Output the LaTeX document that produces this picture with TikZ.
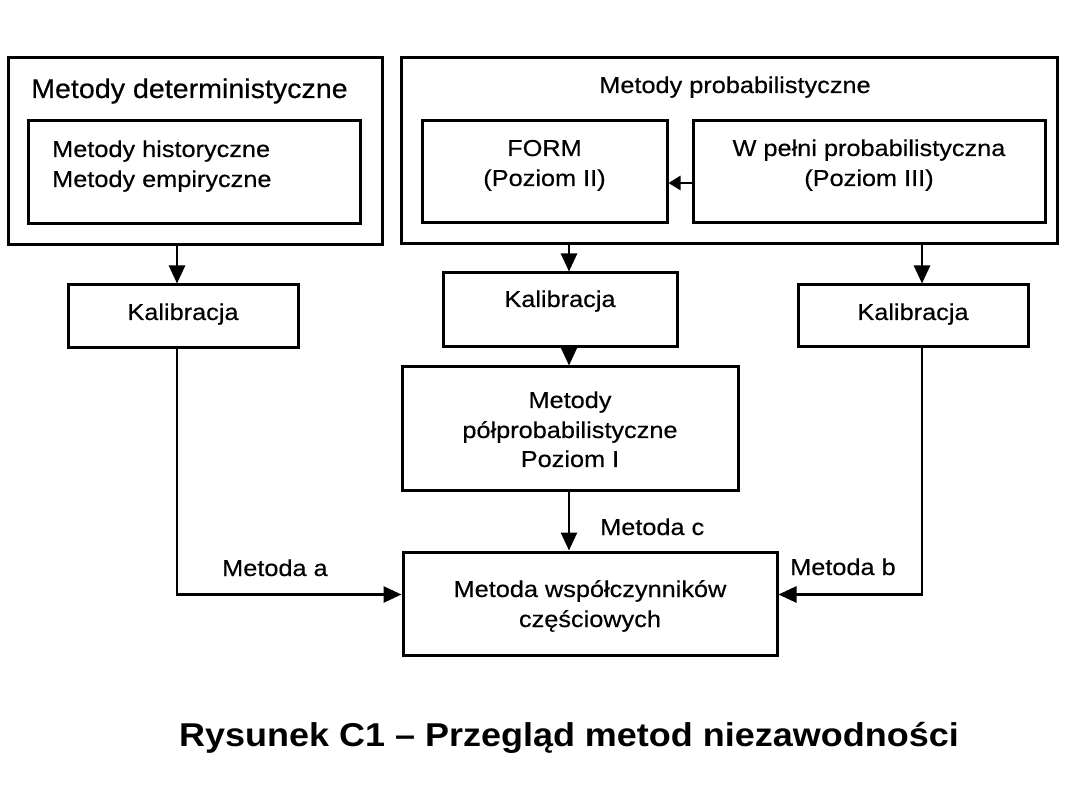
\documentclass[tikz,border=0pt]{standalone}
\usepackage{fontspec}
\setmainfont{Liberation Sans}
\newfontfamily\bodyfont{Liberation Sans}[FakeStretch=1.1,FakeBold=0.4]
\newfontfamily\headfont{Liberation Sans}[FakeStretch=1.06,FakeBold=0.4]
\newfontfamily\capfont{Liberation Sans}[FakeStretch=1.09]
\usetikzlibrary{arrows.meta}
\begin{document}
\begin{tikzpicture}[x=1pt,y=-1pt,
  boxwh/.style 2 args={draw=black, line width=3pt, inner sep=0pt, minimum width=#1, minimum height=#2},
  txt/.style={inner sep=0pt, font=\bodyfont\fontsize{23}{27}\selectfont},
  head/.style={inner sep=0pt, font=\headfont\fontsize{27}{32}\selectfont},
  capt/.style={inner sep=0pt, font=\capfont\bfseries\fontsize{33}{38}\selectfont},
  arr/.style={line width=2.6pt, -{Triangle[length=18pt,width=16pt]}},
  arrs/.style={line width=2.6pt, -{Triangle[length=12pt,width=14pt]}}]
\useasboundingbox[fill=white] (0,0) rectangle (1080,810);
% boxes
\node[boxwh={374pt}{187pt}] (oL) at (195,151.5) {};
\node[boxwh={332pt}{103pt}] (iL) at (194,172.5) {};
\node[boxwh={656pt}{186pt}] (oR) at (729,151) {};
\node[boxwh={245pt}{102pt}] (form) at (544.5,172) {};
\node[boxwh={352pt}{102pt}] (wp) at (869,172) {};
\node[boxwh={230pt}{63pt}] (kL) at (183,316.5) {};
\node[boxwh={234pt}{74pt}] (kM) at (560,310) {};
\node[boxwh={230pt}{62pt}] (kR) at (913,316) {};
\node[boxwh={336pt}{123pt}] (mpp) at (570,428.5) {};
\node[boxwh={374pt}{103pt}] (mwc) at (590,603.5) {};
% texts
\node[head, anchor=base west] (tdet) at (31,98) {Metody deterministyczne};
\node[txt, anchor=base west] (thist) at (52,157) {Metody historyczne};
\node[txt, anchor=base west] (temp) at (52,187) {Metody empiryczne};
\node[txt, anchor=base] (tprob) at (735,93) {Metody probabilistyczne};
\node[txt, anchor=base] (tform1) at (544.5,156) {FORM};
\node[txt, anchor=base] (tform2) at (544.5,186) {(Poziom II)};
\node[txt, anchor=base] (twp1) at (869,156) {W pełni probabilistyczna};
\node[txt, anchor=base] (twp2) at (869,186) {(Poziom III)};
\node[txt, anchor=base] (tkL) at (183,320) {Kalibracja};
\node[txt, anchor=base] (tkM) at (560,307) {Kalibracja};
\node[txt, anchor=base] (tkR) at (913,320) {Kalibracja};
\node[txt, anchor=base] (tmpp1) at (570,408) {Metody};
\node[txt, anchor=base] (tmpp2) at (570,438) {półprobabilistyczne};
\node[txt, anchor=base] (tmpp3) at (570,467) {Poziom I};
\node[txt, anchor=base] (tmwc1) at (590,597) {Metoda współczynników};
\node[txt, anchor=base] (tmwc2) at (590,627) {częściowych};
\node[txt, anchor=base west] (la) at (222,576) {Metoda a};
\node[txt, anchor=base west] (lb) at (790,575) {Metoda b};
\node[txt, anchor=base west] (lc) at (600,535) {Metoda c};
\node[capt, anchor=base] (cap) at (569,746) {Rysunek C1 – Przegląd metod niezawodności};
% connector x positions
\coordinate (xL) at (177,0);
\coordinate (xM) at (569,0);
\coordinate (xR) at (922,0);
% connectors
\draw[arr] (oL.south -| xL) -- (kL.north -| xL);
\draw[arr] (oR.south -| xM) -- (kM.north -| xM);
\draw[arr] (oR.south -| xR) -- (kR.north -| xR);
\draw[arr] (kM.south -| xM) -- (mpp.north -| xM);
\draw[arr] (mpp.south -| xM) -- (mwc.north -| xM);
\draw[arr] (kL.south -| xL) |- ([yshift=9pt]mwc.west);
\draw[arr] (kR.south -| xR) |- ([yshift=9pt]mwc.east);
\draw[arrs] ([yshift=-11pt]wp.west) -- ([yshift=-11pt]form.east);
\end{tikzpicture}
\end{document}
